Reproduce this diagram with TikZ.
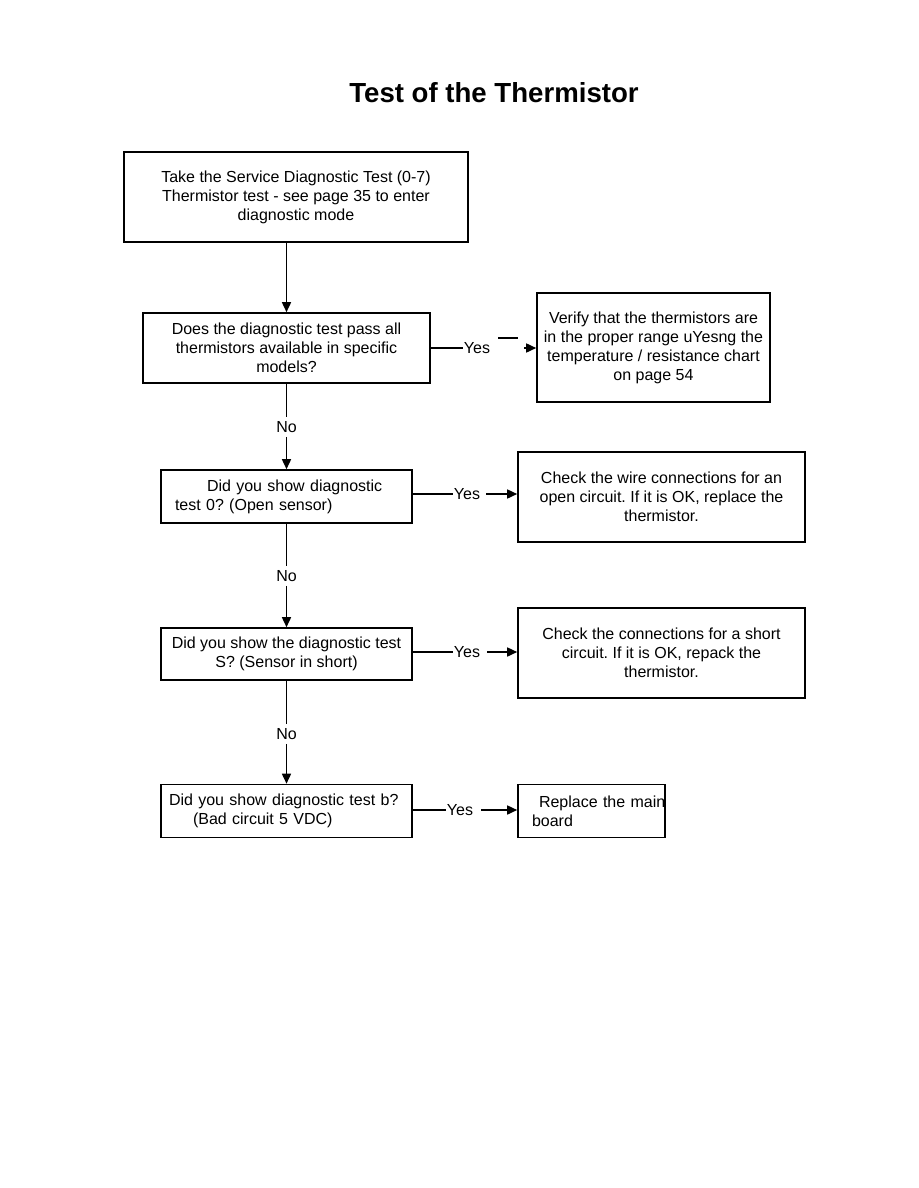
\documentclass[tikz,border=0pt]{standalone}
\usepackage{fontspec}
\setmainfont{Liberation Sans}
\usetikzlibrary{arrows.meta}
\begin{document}
\frenchspacing
\begin{tikzpicture}[x=1pt,y=-1pt,
  box/.style={draw, line width=1.6pt, inner sep=0pt, align=center, font=\fontsize{16}{19}\selectfont\frenchspacing},
  lbl/.style={inner xsep=1pt, inner ysep=4pt, font=\fontsize{16}{19}\selectfont},
  ln/.style={line width=1.6pt},
  arr/.style={line width=1.6pt, -{Triangle[length=10pt,width=9pt]}}]
\useasboundingbox (0,0) rectangle (918,1188);
\node[font=\bfseries\fontsize{27.6}{32}\selectfont, inner sep=0pt] (title) at (494,93) {Test of the Thermistor};

\node[box, minimum width=344pt, minimum height=90pt] (b1) at (296,197)
  {Take the Service Diagnostic Test (0-7)\\Thermistor test - see page 35 to enter\\diagnostic mode};
\node[box, minimum width=287pt, minimum height=70pt] (b2) at (286.5,348)
  {Does the diagnostic test pass all\\thermistors available in specific\\models?};
\node[box, minimum width=233pt, minimum height=109pt] (b3) at (653.5,347.5)
  {Verify that the thermistors are\\in the proper range uYesng the\\temperature / resistance chart\\on page 54};
\node[box, align=left, text width=223pt, inner xsep=14pt, minimum height=53pt] (b4) at (286.5,496.5)
  {\hspace*{32pt}Did you show diagnostic\\test 0? (Open sensor)};
\node[box, minimum width=287pt, minimum height=90pt] (b5) at (661.5,497)
  {Check the wire connections for an\\open circuit. If it is OK, replace the\\thermistor.};
\node[box, minimum width=251pt, minimum height=52pt] (b6) at (286.5,654)
  {Did you show the diagnostic test\\S? (Sensor in short)};
\node[box, minimum width=287pt, minimum height=90pt] (b7) at (661.5,653)
  {Check the connections for a short\\circuit. If it is OK, repack the\\thermistor.};
\node[box, align=left, text width=235pt, inner xsep=8pt, minimum height=53pt] (b8) at (286.5,811)
  {Did you show diagnostic test b?\\\hspace*{24pt}(Bad circuit 5 VDC)};
\node[box, align=left, text width=133pt, inner xsep=7pt, minimum height=53pt] (b9) at (591.5,811)
  {\mbox{\hspace{14pt}Replace the main}\\\hspace*{7pt}board};

% vertical flow
\draw[arr] (b1.south -| b2.north) -- (b2.north);
\node[lbl] (no1) at (286.5,427) {No};
\draw[ln] (b2.south) -- (no1.north);
\draw[arr] (no1.south) -- (b4.north);
\node[lbl] (no2) at (286.5,576) {No};
\draw[ln] (b4.south) -- (no2.north);
\draw[arr] (no2.south) -- (b6.north);
\node[lbl] (no3) at (286.5,734) {No};
\draw[ln] (b6.south) -- (no3.north);
\draw[arr] (no3.south) -- (b8.north);

% yes branches
\node[lbl] (y1) at (477,348) {Yes};
\draw[ln] (b2.east) -- (y1.west);
\coordinate (c1a) at (498,338);
\coordinate (c1b) at (518,338);
\draw[ln] (c1a) -- (c1b);
\coordinate (c1c) at (524,348);
\draw[arr] (c1c) -- (c1c -| b3.west);

\node[lbl] (y2) at (467,494) {Yes};
\draw[ln] (y2.west -| b4.east) -- (y2.west);
\draw[arr] ([xshift=5pt]y2.east) -- (y2.east -| b5.west);

\node[lbl] (y3) at (467,652) {Yes};
\draw[ln] (y3.west -| b6.east) -- (y3.west);
\draw[arr] ([xshift=6pt]y3.east) -- (y3.east -| b7.west);

\node[lbl] (y4) at (460,810) {Yes};
\draw[ln] (y4.west -| b8.east) -- (y4.west);
\draw[arr] ([xshift=7pt]y4.east) -- (y4.east -| b9.west);
\end{tikzpicture}
\end{document}
